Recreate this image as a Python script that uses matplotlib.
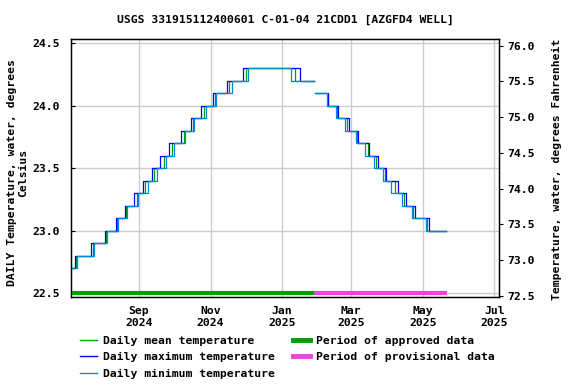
import numpy as np
import pandas as pd
import matplotlib
matplotlib.use("Agg")
import matplotlib.pyplot as plt
import matplotlib.dates as mdates
from matplotlib.lines import Line2D

# Step values (deg C); each series changes on its own dates
approved_vals = [22.7, 22.8, 22.9, 23.0, 23.1, 23.2, 23.3, 23.4, 23.5, 23.6,
                 23.7, 23.8, 23.9, 24.0, 24.1, 24.2, 24.3, 24.2]
provisional_vals = [24.1, 24.0, 23.9, 23.8, 23.7, 23.6, 23.5, 23.4, 23.3,
                    23.2, 23.1, 23.0]

approved_start = "2024-07-05"
approved_end = "2025-01-28"
provisional_start = "2025-01-29"
provisional_end = "2025-05-21"

# dates on which each series steps to the next value (approved period)
mean_appr_dates = ["2024-07-09", "2024-07-24", "2024-08-04", "2024-08-13", "2024-08-21",
                   "2024-08-30", "2024-09-06", "2024-09-14", "2024-09-22", "2024-09-29",
                   "2024-10-09", "2024-10-17", "2024-10-26", "2024-11-05", "2024-11-17",
                   "2024-12-01", "2025-01-12"]
max_appr_dates = ["2024-07-08", "2024-07-22", "2024-08-03", "2024-08-12", "2024-08-20",
                  "2024-08-28", "2024-09-04", "2024-09-12", "2024-09-19", "2024-09-27",
                  "2024-10-07", "2024-10-15", "2024-10-24", "2024-11-03", "2024-11-15",
                  "2024-11-29", "2025-01-16"]
min_appr_dates = ["2024-07-10", "2024-07-25", "2024-08-05", "2024-08-14", "2024-08-22",
                  "2024-08-31", "2024-09-09", "2024-09-16", "2024-09-24", "2024-10-01",
                  "2024-10-10", "2024-10-18", "2024-10-28", "2024-11-06", "2024-11-19",
                  "2024-12-03", "2025-01-09"]

# provisional period
mean_prov_dates = ["2025-02-09", "2025-02-17", "2025-02-25", "2025-03-06", "2025-03-15",
                   "2025-03-22", "2025-03-30", "2025-04-07", "2025-04-15", "2025-04-23",
                   "2025-05-05"]
max_prov_dates = ["2025-02-09", "2025-02-18", "2025-02-27", "2025-03-07", "2025-03-16",
                  "2025-03-24", "2025-03-31", "2025-04-10", "2025-04-17", "2025-04-24",
                  "2025-05-06"]
min_prov_dates = ["2025-02-08", "2025-02-16", "2025-02-24", "2025-03-05", "2025-03-13",
                  "2025-03-20", "2025-03-28", "2025-04-04", "2025-04-13", "2025-04-22",
                  "2025-05-04"]

period_edges = ["2024-07-05", "2025-01-28", "2025-05-22"]

title = "USGS 331915112400601 C-01-04 21CDD1 [AZGFD4 WELL]"
x_ticks = ["2024-09-01", "2024-11-01", "2025-01-01", "2025-03-01", "2025-05-01", "2025-07-01"]
x_ticklabels = ["Sep\n2024", "Nov\n2024", "Jan\n2025", "Mar\n2025", "May\n2025", "Jul\n2025"]
c_ticks = [22.5, 23.0, 23.5, 24.0, 24.5]
f_ticks = [72.5, 73.0, 73.5, 74.0, 74.5, 75.0, 75.5, 76.0]

c_mean = "#00a000"
c_max = "#0000ff"
c_min = "#0088dd"
c_appr = "#00a000"
c_prov = "#ee44dd"

plt.rcParams["font.family"] = "DejaVu Sans Mono"
plt.rcParams["font.weight"] = "bold"
fs = 8.2

fig = plt.figure(figsize=(5.76, 3.84), dpi=100)
ax = fig.add_axes([71 / 576, 1 - 296.5 / 384, 428 / 576, 257.2 / 384])


def step_series(start, changes, end, vals):
    d = pd.to_datetime([start] + changes + [end])
    v = vals + [vals[-1]]
    return d, v


series = [(mean_appr_dates, mean_prov_dates, c_mean),
          (max_appr_dates, max_prov_dates, c_max),
          (min_appr_dates, min_prov_dates, c_min)]
for appr_dates, prov_dates, col in series:
    d, v = step_series(approved_start, appr_dates, approved_end, approved_vals)
    ax.step(d, v, where="post", color=col, lw=0.9)
    d, v = step_series(provisional_start, prov_dates, provisional_end, provisional_vals)
    ax.step(d, v, where="post", color=col, lw=0.9)

# approval period bars along the bottom
pe = pd.to_datetime(period_edges)
ax.plot(pe[0:2], [22.5, 22.5], color=c_appr, lw=3, solid_capstyle="butt", zorder=5)
ax.plot(pe[1:3], [22.5, 22.5], color=c_prov, lw=3, solid_capstyle="butt", zorder=5)

ax.set_xlim(pd.Timestamp("2024-07-05"), pd.Timestamp("2025-07-05"))
ax.set_ylim(22.472, 24.532)
ax.set_xticks(pd.to_datetime(x_ticks))
ax.set_xticklabels(x_ticklabels, fontsize=fs, fontweight="bold")
ax.set_yticks(c_ticks)
ax.set_yticklabels(["%.1f" % t for t in c_ticks], fontsize=fs, fontweight="bold")
ax.grid(True, color="#cccccc", lw=1)
ax.set_axisbelow(True)
ax.tick_params(axis="y", direction="in", length=3, pad=8)
ax.tick_params(axis="x", direction="in", length=0, pad=7)
for s in ax.spines.values():
    s.set_linewidth(1)

ax2 = ax.twinx()
ax2.set_ylim(72.489, 76.09)
ax2.set_yticks(f_ticks)
ax2.set_yticklabels(["%.1f" % t for t in f_ticks], fontsize=fs, fontweight="bold")
ax2.tick_params(axis="y", direction="out", length=3, pad=3)

fig.text(285 / 576, 1 - 19.5 / 384, title, ha="center", va="center", fontsize=fs, fontweight="bold")
fig.text(17.5 / 576, 1 - 173 / 384, "DAILY Temperature, water, degrees\nCelsius",
         rotation=90, ha="center", va="center", multialignment="center",
         fontsize=fs, fontweight="bold", linespacing=1.1)
fig.text(557 / 576, 1 - 169 / 384, "Temperature, water, degrees Fahrenheit",
         rotation=90, ha="center", va="center", fontsize=fs, fontweight="bold")

handles = [Line2D([], [], color=c_mean, lw=1),
           Line2D([], [], color=c_max, lw=1),
           Line2D([], [], color=c_min, lw=1),
           Line2D([], [], color=c_appr, lw=3.5),
           Line2D([], [], color=c_prov, lw=3.5)]
labels = ["Daily mean temperature", "Daily maximum temperature", "Daily minimum temperature",
          "Period of approved data", "Period of provisional data"]
fig.legend(handles, labels, ncol=2, loc="upper left", bbox_to_anchor=(80 / 576, 1 - 336 / 384),
           frameon=False, fontsize=fs, borderpad=0, borderaxespad=0, handlelength=1.5,
           handletextpad=0.5, columnspacing=1.6, labelspacing=0.55,
           prop={"weight": "bold", "size": fs})

fig.savefig("out.png", dpi=100)
